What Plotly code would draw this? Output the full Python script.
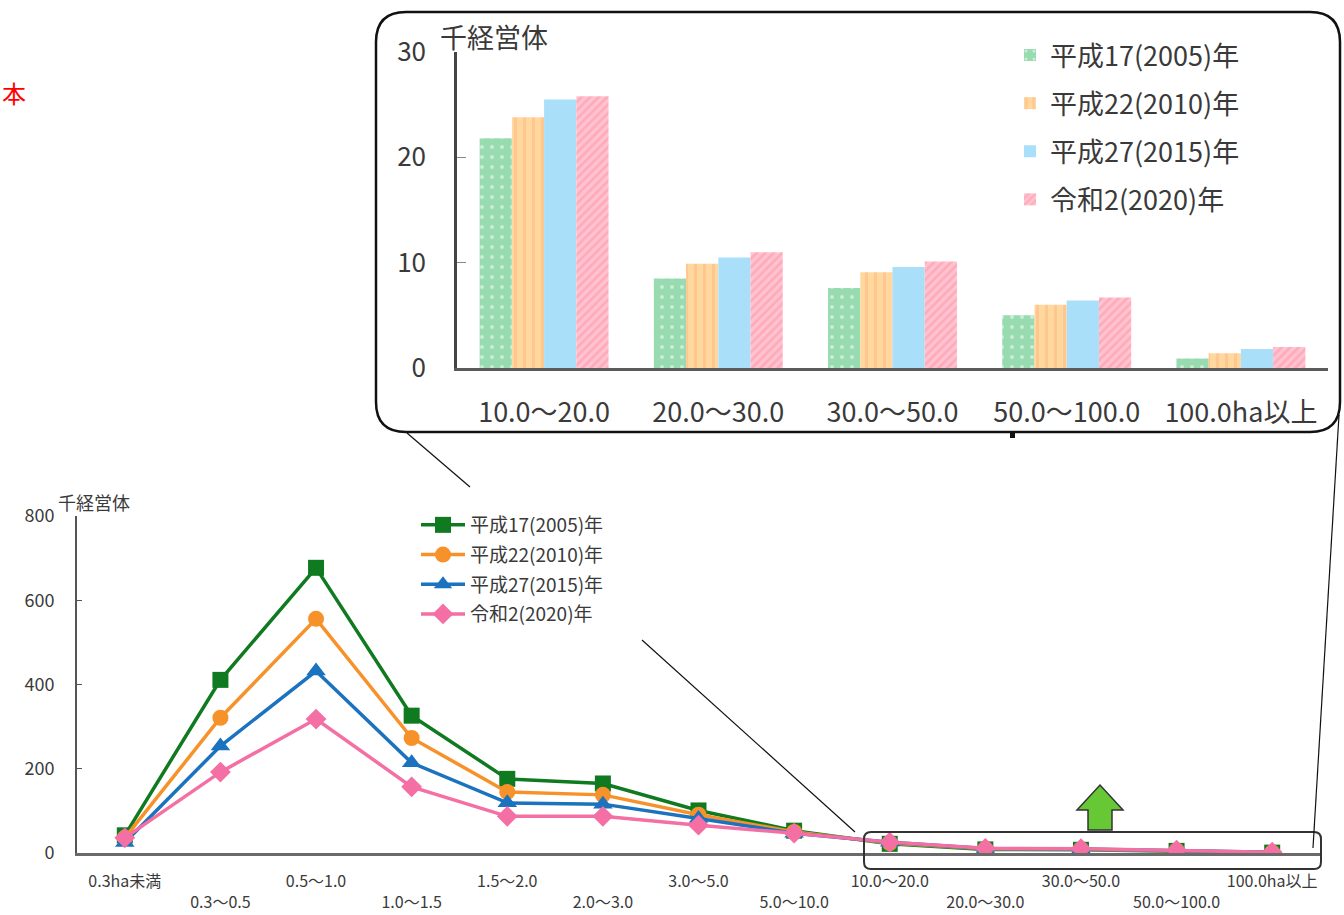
import plotly.graph_objects as go

# 経営耕地面積規模別の経営体数（千経営体）
categories = ["0.3ha未満", "0.3～0.5", "0.5～1.0", "1.0～1.5", "1.5～2.0", "2.0～3.0",
              "3.0～5.0", "5.0～10.0", "10.0～20.0", "20.0～30.0", "30.0～50.0",
              "50.0～100.0", "100.0ha以上"]
years = ["平成17(2005)年", "平成22(2010)年", "平成27(2015)年", "令和2(2020)年"]

h17 = [42, 411, 677, 326, 176, 165, 101, 53, 21.8, 8.5, 7.6, 5.0, 0.9]
h22 = [36, 321, 556, 273, 145, 138, 91, 50, 23.8, 9.9, 9.1, 6.0, 1.4]
h27 = [25, 254, 432, 214, 119, 116, 82, 47, 25.5, 10.5, 9.6, 6.4, 1.8]
r02 = [36, 192, 318, 157, 87, 87, 66, 47, 25.8, 11.0, 10.1, 6.7, 2.0]
series = [h17, h22, h27, r02]

# 拡大部分（10.0ha以上）
inset_categories = ["10.0～20.0", "20.0～30.0", "30.0～50.0", "50.0～100.0", "100.0ha以上"]
inset_start = 8

main_yticks = [0, 200, 400, 600, 800]
inset_yticks = [0, 10, 20, 30]

W, H = 1344, 915
FONT = "Noto Sans CJK JP"
TXT = "#3a3a3a"


def X(px):
    return px / W


def Y(py):
    return 1 - py / H


line_colors = ["#0F7A1F", "#F7922A", "#1B72BE", "#F36FA4"]
symbols = ["square", "circle", "triangle-up", "diamond"]
msizes = [16, 16, 17, 16]

fig = go.Figure()

for i, (name, vals) in enumerate(zip(years, series)):
    fig.add_trace(go.Scatter(
        x=categories, y=vals, name=name, mode="lines+markers",
        line=dict(color=line_colors[i], width=3.5),
        marker=dict(symbol=symbols[i], size=msizes[i], color=line_colors[i]),
        xaxis="x", yaxis="y", legend="legend", legendgroup=f"l{i}",
    ))

bar_bg = ["#98DBB0", "#FFD8A0", "#A9DFF9", "#FFC4CF"]
bar_fg = ["#FFFFFF", "#FFB47A", "#A9DFF9", "#FF8FA6"]
bar_shape = [".", "|", "", "/"]
bar_size = [10, 9, 8, 6]
bar_sol = [0.12, 0.35, 0.3, 0.45]

for i, (name, vals) in enumerate(zip(years, series)):
    fig.add_trace(go.Bar(
        x=inset_categories, y=vals[inset_start:], name=name,
        marker=dict(
            color=bar_bg[i], line=dict(width=0),
            pattern=dict(shape=bar_shape[i], fgcolor=bar_fg[i], bgcolor=bar_bg[i],
                         size=bar_size[i], solidity=bar_sol[i]),
        ),
        xaxis="x2", yaxis="y2", legend="legend2", legendgroup=f"b{i}",
    ))

main_ticktext = [c if k % 2 == 0 else "<br>" + c for k, c in enumerate(categories)]

shapes = []
# 拡大図の枠（角丸）
l, r, t, b, rad = 376, 1340, 12, 432, 30
frame = (f"M {X(l + rad)},{Y(t)} L {X(r - rad)},{Y(t)} Q {X(r)},{Y(t)} {X(r)},{Y(t + rad)} "
         f"L {X(r)},{Y(b - rad)} Q {X(r)},{Y(b)} {X(r - rad)},{Y(b)} "
         f"L {X(l + rad)},{Y(b)} Q {X(l)},{Y(b)} {X(l)},{Y(b - rad)} "
         f"L {X(l)},{Y(t + rad)} Q {X(l)},{Y(t)} {X(l + rad)},{Y(t)} Z")
shapes.append(dict(type="path", xref="paper", yref="paper", path=frame,
                   line=dict(color="#111111", width=2.5), layer="above"))
# 拡大対象範囲の枠
l2, r2, t2, b2, rad2 = 864, 1321, 832, 869, 7
box = (f"M {X(l2 + rad2)},{Y(t2)} L {X(r2 - rad2)},{Y(t2)} Q {X(r2)},{Y(t2)} {X(r2)},{Y(t2 + rad2)} "
       f"L {X(r2)},{Y(b2 - rad2)} Q {X(r2)},{Y(b2)} {X(r2 - rad2)},{Y(b2)} "
       f"L {X(l2 + rad2)},{Y(b2)} Q {X(l2)},{Y(b2)} {X(l2)},{Y(b2 - rad2)} "
       f"L {X(l2)},{Y(t2 + rad2)} Q {X(l2)},{Y(t2)} {X(l2 + rad2)},{Y(t2)} Z")
shapes.append(dict(type="path", xref="paper", yref="paper", path=box,
                   line=dict(color="#333333", width=2), layer="above"))
# 引き出し線
for (x0, y0, x1, y1) in [(407, 433, 470, 487), (642, 640, 855, 832), (1339, 415, 1313, 848)]:
    shapes.append(dict(type="line", xref="paper", yref="paper",
                       x0=X(x0), y0=Y(y0), x1=X(x1), y1=Y(y1),
                       line=dict(color="#111111", width=1.2)))
shapes.append(dict(type="rect", xref="paper", yref="paper",
                   x0=X(1010), x1=X(1015), y0=Y(433), y1=Y(438),
                   fillcolor="#111111", line=dict(width=0)))
# 増加を示す矢印
arrow_pts = [(1088, 830), (1088, 810), (1077, 810), (1100, 785), (1123, 810), (1112, 810), (1112, 830)]
arrow = "M " + " L ".join(f"{X(px)},{Y(py)}" for px, py in arrow_pts) + " Z"
shapes.append(dict(type="path", xref="paper", yref="paper", path=arrow,
                   fillcolor="#66C835", line=dict(color="#333333", width=1.5)))

annotations = [
    dict(text="千経営体", x=X(56), y=Y(502), xref="paper", yref="paper",
         xanchor="left", yanchor="middle", showarrow=False,
         font=dict(family=FONT, size=18, color=TXT)),
    dict(text="千経営体", x=X(438), y=Y(37), xref="paper", yref="paper",
         xanchor="left", yanchor="middle", showarrow=False,
         font=dict(family=FONT, size=27, color=TXT)),
    dict(text="本", x=X(0), y=Y(92), xref="paper", yref="paper",
         xanchor="left", yanchor="middle", showarrow=False,
         font=dict(family=FONT, size=24, color="#FF0000")),
]

fig.update_layout(
    width=W, height=H,
    margin=dict(l=0, r=0, t=0, b=0, pad=0, autoexpand=False),
    paper_bgcolor="white", plot_bgcolor="white",
    font=dict(family=FONT, color=TXT),
    barmode="group", bargap=0.26, bargroupgap=0,
    xaxis=dict(domain=[X(77), X(1320)], type="category", range=[-0.5, 12.5],
               tickvals=categories, ticktext=main_ticktext, automargin=False,
               tickangle=0,
               showline=True, linecolor="#6a6a6a", linewidth=2.5,
               ticks="outside", ticklen=12, tickcolor="rgba(0,0,0,0)",
               tickfont=dict(family=FONT, size=16, color=TXT),
               showgrid=False, zeroline=False, anchor="y"),
    yaxis=dict(domain=[Y(853), Y(516)], range=[0, 800], tickvals=main_yticks,
               automargin=False,
               showline=True, linecolor="#555555", linewidth=2,
               ticks="inside", ticklen=5, tickcolor="#555555",
               tickfont=dict(family=FONT, size=18, color=TXT),
               ticklabelstandoff=17,
               showgrid=False, zeroline=False, anchor="x"),
    xaxis2=dict(domain=[X(457), X(1328)], type="category", range=[-0.5, 4.5],
                automargin=False, tickangle=0,
                showline=True, linecolor="#5a5a5a", linewidth=3,
                ticks="", tickfont=dict(family=FONT, size=27, color=TXT),
                ticklabelstandoff=19,
                showgrid=False, zeroline=False, anchor="y2"),
    yaxis2=dict(domain=[Y(368), Y(52)], range=[0, 30], tickvals=inset_yticks,
                automargin=False,
                showline=True, linecolor="#444444", linewidth=2.5,
                ticks="inside", ticklen=9, tickcolor="#888888",
                tickfont=dict(family=FONT, size=26, color=TXT),
                ticklabelstandoff=23,
                showgrid=False, zeroline=False, anchor="x2"),
    legend=dict(x=X(416), y=Y(506), xanchor="left", yanchor="top",
                bgcolor="white", borderwidth=0, tracegroupgap=2, itemwidth=44,
                font=dict(family=FONT, size=19, color=TXT)),
    legend2=dict(x=X(1010), y=Y(31), xanchor="left", yanchor="top",
                 bgcolor="rgba(255,255,255,0)", borderwidth=0, tracegroupgap=10,
                 font=dict(family=FONT, size=27, color=TXT)),
    shapes=shapes, annotations=annotations,
)

fig.write_html("out.html")
